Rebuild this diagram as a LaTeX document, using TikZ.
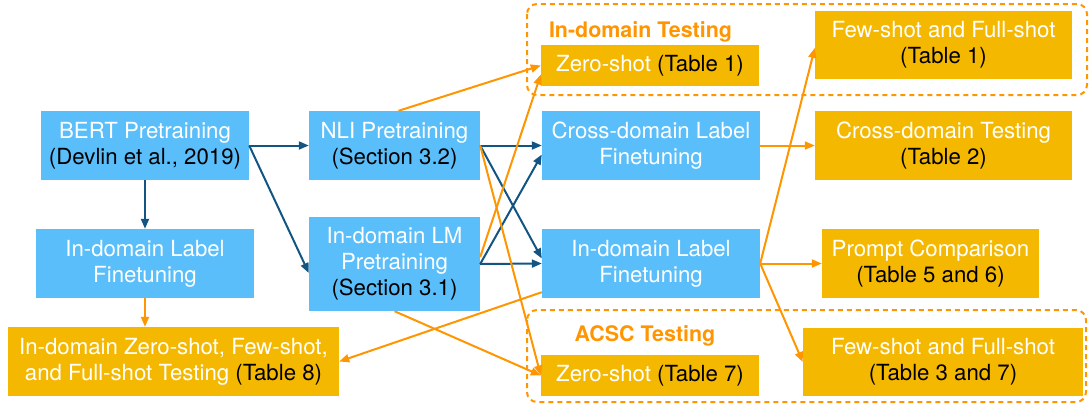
\documentclass[tikz,border=0pt]{standalone}
\usepackage{fontspec}
\setmainfont{TeX Gyre Heros}
\usetikzlibrary{arrows.meta,calc}
\definecolor{boxblue}{RGB}{90,190,250}
\definecolor{boxgold}{RGB}{245,184,0}
\definecolor{arrorange}{RGB}{255,149,0}
\definecolor{arrblue}{RGB}{18,84,130}
\begin{document}
\begin{tikzpicture}[x=1bp,y=-1bp,
  box/.style={inner sep=0pt, align=center, text=white, font=\fontsize{22.3}{26}\selectfont},
  bluebox/.style={box, fill=boxblue},
  goldbox/.style={box, fill=boxgold},
  darr/.style={draw=arrblue, line width=2bp, -{Triangle[length=10bp,width=8bp]}},
  oarr/.style={draw=arrorange, line width=2bp, -{Triangle[length=10bp,width=8bp]}},
  groupbox/.style={draw=arrorange, line width=2bp, dash pattern=on 5bp off 4bp, rounded corners=10bp},
  grouplabel/.style={text=arrorange, font=\bfseries\fontsize{21.5}{25.5}\selectfont, anchor=base, inner sep=0pt}]
\useasboundingbox (0,0) rectangle (1089,405);

% groups
\draw[groupbox] (527,4) rectangle (1087,95);
\draw[groupbox] (527,310) rectangle (1086,402);
\node[grouplabel] (lblin) at (640.5,37) {In-domain Testing};
\node[grouplabel] (lblacsc) at (645,341) {ACSC Testing};

% blue boxes
\node[bluebox, minimum width=208bp, minimum height=69bp] (bert) at (145,145.5) {BERT Pretraining\\{\color{black}(Devlin et al., 2019)}};
\node[bluebox, minimum width=218bp, minimum height=69bp] (lidl) at (145,263.5) {In-domain Label\\Finetuning};
\node[bluebox, minimum width=171bp, minimum height=69bp] (nli) at (394.5,145.5) {NLI Pretraining\\{\color{black}(Section 3.2)}};
\node[bluebox, minimum width=171bp, minimum height=94bp] (lm) at (394.5,264) {In-domain LM\\Pretraining\\{\color{black}(Section 3.1)}};
\node[bluebox, minimum width=218bp, minimum height=69bp] (cross) at (651,145.5) {Cross-domain Label\\Finetuning};
\node[bluebox, minimum width=218bp, minimum height=69bp] (mid) at (651,263.5) {In-domain Label\\Finetuning};

% gold boxes
\node[goldbox, minimum width=331bp, minimum height=69bp] (idzs) at (173.5,361.5) {In-domain Zero-shot, Few-shot,\\and Full-shot Testing {\color{black}(Table 8)}};
\node[goldbox, minimum width=218bp, minimum height=41bp] (zs1) at (650,65.5) {Zero-shot {\color{black}(Table 1)}};
\node[goldbox, minimum width=218bp, minimum height=41bp] (zs7) at (650,375.5) {Zero-shot {\color{black}(Table 7)}};
\node[goldbox, minimum width=257bp, minimum height=68bp] (fs1) at (943.5,45) {Few-shot and Full-shot\\{\color{black}(Table 1)}};
\node[goldbox, minimum width=257bp, minimum height=69bp] (cdt) at (943.5,145.5) {Cross-domain Testing\\{\color{black}(Table 2)}};
\node[goldbox, minimum width=217bp, minimum height=69bp] (prompt) at (930.5,263.5) {Prompt Comparison\\{\color{black}(Table 5 and 6)}};
\node[goldbox, minimum width=280bp, minimum height=68bp] (fs3) at (943,362) {Few-shot and Full-shot\\{\color{black}(Table 3 and 7)}};

% dark blue arrows
\draw[darr] (bert.east) -- (nli.west);
\draw[darr] (bert.east) -- ([yshift=-9bp]lm.west);
\draw[darr] (bert.south) -- (lidl.north);
\draw[darr] (nli.east) -- (cross.west);
\draw[darr] (nli.east) -- ([yshift=5bp]mid.west);
\draw[darr] (lm.east) -- (mid.west);
\draw[darr] (lm.east) -- ([yshift=-9bp]cross.west);

% orange arrows
\draw[oarr] (lidl.south) -- (lidl.south |- idzs.north);
\draw[oarr] ([xshift=4bp]nli.north) -- (zs1.west);
\draw[oarr] ([yshift=7bp]lm.east) -- ([yshift=-9bp]zs1.west);
\draw[oarr] (nli.east) -- (zs7.west);
\draw[oarr] (lm.south) -- (zs7.west);
\draw[oarr] ([yshift=6bp]mid.south west) -- (idzs.east);
\draw[oarr] (cross.east) -- (cdt.west);
\draw[oarr] (mid.east) -- ([yshift=-3bp]fs1.west);
\draw[oarr] (mid.east) -- (prompt.west);
\draw[oarr] (mid.east) -- (fs3.west);
\end{tikzpicture}
\end{document}
